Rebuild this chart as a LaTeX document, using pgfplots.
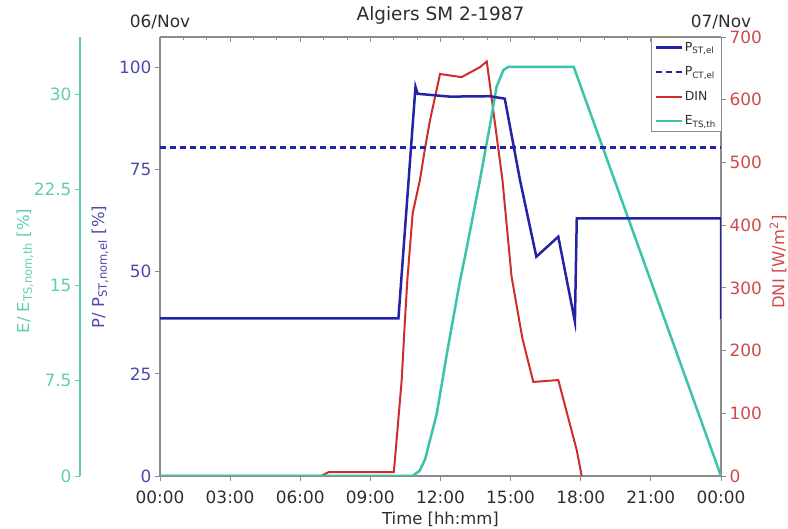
\documentclass[border=0pt]{standalone}
\usepackage{fontspec}
\setmainfont{DejaVu Sans}
\usepackage{pgfplots}
\pgfplotsset{compat=1.18}
\definecolor{cblue}{RGB}{35,35,165}
\definecolor{cred}{RGB}{205,45,45}
\definecolor{cteal}{RGB}{60,195,170}
\definecolor{lblue}{RGB}{75,75,170}
\definecolor{lred}{RGB}{205,75,75}
\definecolor{lteal}{RGB}{95,205,180}
\definecolor{agray}{RGB}{140,140,140}
\definecolor{tgray}{RGB}{45,45,45}
\newcommand{\tf}{\fontsize{17}{19}\selectfont}
\newcommand{\lf}{\fontsize{16.5}{18}\selectfont}
\pgfplotsset{
  base/.style={
    scale only axis, width=561bp, height=439bp,
    at={(160bp,53bp)}, anchor=south west,
    xmin=0, xmax=24,
    /pgf/number format/assume math mode=true,
    tick label style={font=\tf},
    label style={font=\lf},
    axis line style={agray, line width=1.8bp},
    tick style={agray, line width=1bp},
    major tick length=5bp, minor tick length=3bp,
  }
}
\begin{document}
\begin{tikzpicture}
\path[use as bounding box] (0,0) rectangle (788bp,529bp);
% frame: bottom x axis and right DNI axis
\begin{axis}[base, ymin=0, ymax=700,
  axis x line*=bottom, axis y line*=right,
  tick align=outside,
  xtick={0,3,...,24},
  xticklabels={00:00,03:00,06:00,09:00,12:00,15:00,18:00,21:00,00:00},
  xticklabel style={text=tgray, yshift=-6bp},
  ytick={0,100,...,700},
  yticklabel style={text=lred},
  xlabel={Time [hh:mm]},
  xlabel style={text=tgray, at={(axis description cs:0.5,0)}, anchor=center, yshift=-43bp},
  ylabel={DNI [W/m\textsuperscript{2}]},
  ylabel style={text=lred, at={(axis description cs:1.1016,0.487)}, anchor=center},
]
\end{axis}
% DNI data
\begin{axis}[base, ymin=0, ymax=700, axis lines=none]
\addplot[cred, line width=2bp] coordinates {
(0,0) (6.9,0) (7.2,6) (10.0,6) (10.05,26) (10.34,153) (10.48,249) (10.58,312)
(10.81,419) (11.12,472) (11.34,523) (11.55,567) (11.98,641) (12.9,636)
(13.69,652) (13.98,661) (14.19,602) (14.65,472) (15.04,318) (15.5,220)
(15.97,150) (17.04,153) (17.83,41) (18.04,0)
};
\end{axis}
% teal axis and E data
\begin{axis}[scale only axis, width=641bp, height=439bp, at={(80bp,53bp)}, anchor=south west,
  xmin=-3.4225, xmax=24, ymin=0, ymax=34.5,
  axis x line=none, axis y line*=left,
  axis line style={lteal, line width=1.8bp},
  tick style={lteal, line width=1bp}, major tick length=5bp,
  tick align=outside,
  ytick={0,7.5,15,22.5,30},
  /pgf/number format/assume math mode=true,
  yticklabel style={text=lteal, font=\tf},
  ylabel={E/ E\textsubscript{TS,nom,th} [\%]},
  ylabel style={text=lteal, font=\lf, at={(axis description cs:-0.0858,0.467)}, anchor=center},
]
\addplot[cteal, line width=2.5bp] coordinates {
(0,0) (10.8,0) (11.1,0.4) (11.34,1.3) (11.84,4.9) (12.3,9.9) (12.83,15.3) (13.12,17.9)
(13.69,23.3) (14.12,27.6) (14.4,30.6) (14.69,31.9) (14.9,32.15) (17.7,32.15) (24,0)
};
\end{axis}
% top axis with dates and title
\begin{axis}[base, ymin=0, ymax=1, clip=false,
  axis x line*=top, axis y line=none,
  tick align=inside,
  xtick={0,3,...,24},
  xticklabels={06/Nov,{},{},{},{},{},{},{},07/Nov},
  minor x tick num=2,
  xticklabel style={text=tgray, yshift=4bp},
]
\node[font=\fontsize{18.5}{20}\selectfont, text=tgray, anchor=center, yshift=22bp]
  at (rel axis cs:0.5,1) {Algiers SM 2-1987};
\end{axis}
% blue axis, P data, legend
\begin{axis}[base, ymin=0, ymax=107.5,
  axis x line=none, axis y line*=left,
  tick align=outside,
  ytick={0,25,50,75,100},
  yticklabel style={text=lblue},
  ylabel={P/ P\textsubscript{ST,nom,el} [\%]},
  ylabel style={text=lblue, at={(axis description cs:-0.107,0.476)}, anchor=center},
  legend style={at={(1,1)}, anchor=north east, draw=agray, fill=white,
    font=\fontsize{12.5}{13}\selectfont, row sep=10bp, inner sep=3bp,
    cells={anchor=west}, text=tgray},
  legend image code/.code={\draw[#1] (0bp,0bp) -- (26bp,0bp);},
]
\addplot[cblue, line width=2.5bp] coordinates {
(0,38.6) (10.2,38.6) (10.93,95.3) (11.02,93.6) (11.8,93.2) (12.4,92.9) (14.1,93.0)
(14.75,92.4) (15.4,72.5) (16.1,53.7) (17.04,58.6) (17.75,37.8) (17.83,63.1)
(24,63.1) (24,38.5)
};
\addlegendentry{P\textsubscript{ST,el}}
\addplot[cblue, line width=2.5bp, dash pattern=on 6bp off 4bp] coordinates {(0,80.5) (24,80.5)};
\addlegendentry{P\textsubscript{CT,el}}
\addlegendimage{cred, line width=2bp}
\addlegendentry{DIN}
\addlegendimage{cteal, line width=2.5bp}
\addlegendentry{E\textsubscript{TS,th}}
\end{axis}
\end{tikzpicture}
\end{document}
